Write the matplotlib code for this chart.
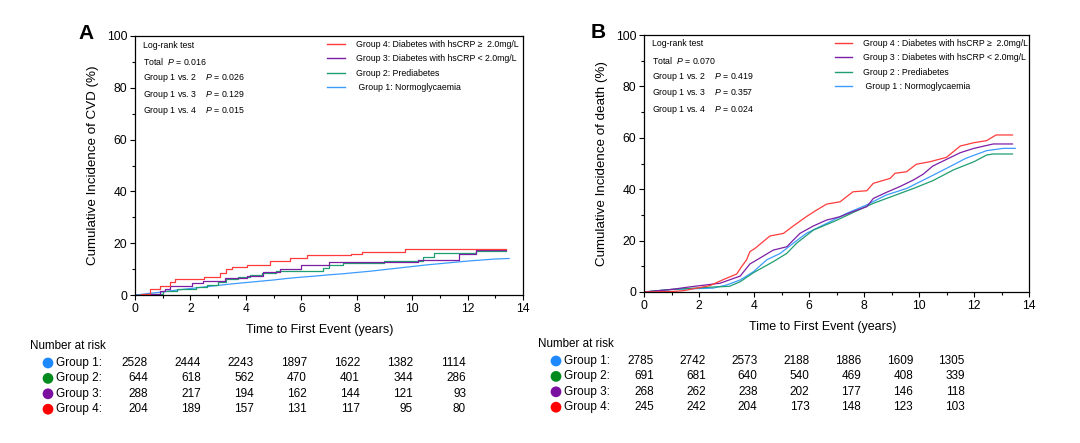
import matplotlib.pyplot as plt
import numpy as np

plt.rcParams['font.family'] = ['Liberation Sans', 'DejaVu Sans']
plt.rcParams['mathtext.fontset'] = 'custom'
plt.rcParams['mathtext.rm'] = 'Liberation Sans'
plt.rcParams['mathtext.it'] = 'Liberation Sans:italic'

# ---- panel A : CVD ----
a_t_g4 = [0, 0.2, 0.54, 0.9, 1.26, 1.44, 2.5, 3.07, 3.3, 3.5, 4.03, 4.87, 5.6, 6.2, 7.8, 8.2, 9.75, 13.4]
a_v_g4 = [0, 0.5, 2.2, 3.5, 5.1, 6.3, 7.0, 8.4, 9.9, 11.0, 11.6, 13.0, 14.4, 15.4, 16.0, 16.7, 17.6, 17.6]
a_t_g3 = [0, 0.4, 0.9, 1.1, 1.26, 2.04, 2.46, 3.25, 4.03, 4.63, 5.24, 6.0, 7.0, 8.5, 10.2, 11.7, 12.3, 13.4]
a_v_g3 = [0, 0.5, 1.5, 2.5, 3.4, 4.5, 5.3, 6.7, 7.4, 8.8, 10.2, 11.7, 12.8, 12.8, 13.5, 16.0, 17.3, 17.3]
a_t_g2 = [0, 0.4, 1.0, 1.5, 2.2, 2.6, 3.0, 3.3, 3.7, 4.15, 4.6, 5.1, 6.5, 6.8, 7.0, 7.5, 8.97, 10.4, 10.8, 12.2, 12.3, 13.4]
a_v_g2 = [0, 0.4, 1.5, 2.2, 3.2, 4.0, 5.0, 6.0, 6.8, 7.7, 8.4, 9.3, 9.3, 10.3, 11.5, 12.5, 13.3, 14.5, 16.1, 16.3, 17.1, 17.1]
a_t_g1 = [0, 0.3, 0.5, 1.0, 1.5, 2.0, 2.5, 3.0, 3.5, 4.0, 4.5, 5.0, 5.5, 6.0, 6.5, 7.0, 7.5,
          8.0, 8.5, 9.0, 9.5, 10.0, 10.5, 11.0, 11.5, 12.0, 12.5, 13.0, 13.5]
a_v_g1 = [0, 0.3, 0.6, 1.2, 1.9, 2.5, 3.1, 3.7, 4.3, 4.8, 5.3, 5.8, 6.4, 6.9, 7.3, 7.8, 8.2,
          8.7, 9.2, 9.8, 10.4, 11.0, 11.6, 12.1, 12.6, 13.1, 13.5, 13.9, 14.1]

# ---- panel B : death ----
b_t_g4 = [0, 1.0, 1.43, 2.4, 2.9, 3.37, 3.55, 3.73, 3.85, 4.04, 4.58, 5.07, 5.43, 5.9, 6.28, 6.64, 7.13,
          7.6, 8.1, 8.34, 8.95, 9.13, 9.55, 9.9, 10.4, 11.0, 11.5, 12.0, 12.46, 12.8, 13.4]
b_v_g4 = [0, 0.2, 0.5, 2.5, 4.9, 7.0, 9.9, 12.5, 15.7, 17.0, 21.8, 22.8, 25.7, 29.3, 31.9, 34.2, 35.1,
          39.0, 39.4, 42.3, 44.2, 46.2, 46.8, 49.7, 50.7, 52.4, 56.8, 58.1, 58.9, 61.1, 61.1]
b_t_g3 = [0, 1.0, 1.67, 2.76, 3.5, 3.85, 4.2, 4.7, 5.19, 5.67, 6.16, 6.64, 7.13, 7.6, 8.1, 8.34,
          8.8, 9.3, 9.8, 10.16, 10.5, 11.0, 11.5, 12.0, 12.7, 13.4]
b_v_g3 = [0, 1.0, 2.0, 3.4, 6.2, 10.9, 13.1, 16.3, 17.6, 22.8, 25.7, 28.0, 29.3, 31.3, 33.2, 36.4,
          38.7, 41.0, 43.6, 45.9, 49.0, 51.6, 54.2, 55.9, 57.6, 57.6]
b_t_g2 = [0, 0.5, 1.0, 2.64, 3.1, 3.5, 3.73, 3.98, 4.7, 5.19, 5.55, 6.16, 6.9, 7.6, 8.34, 9.07, 9.8,
          10.5, 11.25, 12.0, 12.46, 12.7, 13.4]
b_v_g2 = [0, 0.5, 1.0, 2.0, 2.2, 4.0, 5.7, 7.5, 11.8, 15.0, 19.0, 24.1, 27.4, 30.9, 34.5, 37.4, 40.3,
          43.3, 47.5, 50.7, 53.3, 53.7, 53.7]
b_t_g1 = [0, 1.0, 2.5, 3.0, 3.5, 3.98, 4.46, 4.95, 5.43, 5.9, 6.64, 7.37, 8.1, 8.8, 9.55, 10.28,
          11.0, 11.7, 12.46, 13.07, 13.5]
b_v_g1 = [0, 1.0, 1.5, 2.7, 4.7, 7.9, 12.5, 15.0, 19.0, 22.8, 26.7, 30.6, 33.9, 37.7, 40.3, 44.2,
          48.1, 52.0, 55.0, 55.9, 55.9]

a_labels = ['Group 4: Diabetes with hsCRP \u2265  2.0mg/L', 'Group 3: Diabetes with hsCRP < 2.0mg/L',
            'Group 2: Prediabetes', ' Group 1: Normoglycaemia']
b_labels = ['Group 4 : Diabetes with hsCRP \u2265  2.0mg/L', 'Group 3 : Diabetes with hsCRP < 2.0mg/L',
            'Group 2 : Prediabetes', ' Group 1 : Normoglycaemia']
a_pvals = ['0.016', '0.026', '0.129', '0.015']
b_pvals = ['0.070', '0.419', '0.357', '0.024']

groups = ['Group 1:', 'Group 2:', 'Group 3:', 'Group 4:']
a_risk = [[2528, 2444, 2243, 1897, 1622, 1382, 1114],
          [644, 618, 562, 470, 401, 344, 286],
          [288, 217, 194, 162, 144, 121, 93],
          [204, 189, 157, 131, 117, 95, 80]]
b_risk = [[2785, 2742, 2573, 2188, 1886, 1609, 1305],
          [691, 681, 640, 540, 469, 408, 339],
          [268, 262, 238, 202, 177, 146, 118],
          [245, 242, 204, 173, 148, 123, 103]]

line_cols = ['#3d9bff', '#1f9e70', '#7d1fa5', '#ff3b3b']
dot_cols = ['#1e88ff', '#008a1e', '#7a0fa0', '#ff0000']

W, H = 1080, 443
fig = plt.figure(figsize=(W / 100, H / 100), dpi=100)


def panel(rect, curves, styles, labels, pvals, ylabel, letter, letter_x, label_x):
    ax = fig.add_axes(rect)
    # group 1 first so group 4 ends on top
    for (t, v), c, ds in zip(curves, line_cols, styles):
        ax.plot(t, v, drawstyle=ds, color=c, lw=0.9)
    handles = [plt.Line2D([], [], color=c, lw=1.0) for c in line_cols[::-1]]
    ax.legend(handles, labels, loc='upper left', bbox_to_anchor=(0.495, 0.985),
              frameon=False, fontsize=6.3, handlelength=2.0, handletextpad=1.3,
              labelspacing=0.62, borderpad=0, borderaxespad=0)
    ax.set_xlim(0, 14)
    ax.set_ylim(0, 100)
    ax.set_xticks(np.arange(0, 15, 2))
    ax.set_xticks(np.arange(1, 14, 2), minor=True)
    ax.set_yticks(np.arange(0, 101, 20))
    ax.set_yticks(np.arange(10, 100, 20), minor=True)
    ax.tick_params(which='major', length=3.5, width=0.8, labelsize=8.7, pad=2)
    ax.tick_params(which='minor', length=2.5, width=0.8)
    for s in ax.spines.values():
        s.set_linewidth(0.9)
    ax.set_ylabel(ylabel, fontsize=9.6, labelpad=6)
    ax.set_xlabel('Time to First Event (years)', fontsize=9.0)
    ax.xaxis.set_label_coords(label_x, -0.113)
    rows = ['Log-rank test', 'Total  $P$ = ' + pvals[0]]
    rows += ['Group 1 vs. %d    $P$ = %s' % (i + 2, p) for i, p in enumerate(pvals[1:])]
    for i, r in enumerate(rows):
        ax.text(0.02, 0.965 - i * 0.064, r, transform=ax.transAxes, fontsize=6.3, va='center')
    ax.text(letter_x, 1.01, letter, transform=ax.transAxes, fontsize=15, fontweight='bold',
            va='center', ha='center')
    return ax


a_curves = [(a_t_g1, a_v_g1), (a_t_g2, a_v_g2), (a_t_g3, a_v_g3), (a_t_g4, a_v_g4)]
b_curves = [(b_t_g1, b_v_g1), (b_t_g2, b_v_g2), (b_t_g3, b_v_g3), (b_t_g4, b_v_g4)]
panel([135 / W, 1 - 295 / H, 388 / W, 259 / H], a_curves,
      ['default', 'steps-post', 'steps-post', 'steps-post'], a_labels, a_pvals,
      'Cumulative Incidence of CVD (%)', 'A', -0.126, 0.475)
panel([644 / W, 1 - 292 / H, 385 / W, 257 / H], b_curves,
      ['default'] * 4, b_labels, b_pvals,
      'Cumulative Incidence of death (%)', 'B', -0.12, 0.465)

# number at risk tables, placed in pixel space
tab = fig.add_axes([0, 0, 1, 1])
tab.set_xlim(0, W)
tab.set_ylim(H, 0)
tab.axis('off')


def risk_table(risk, x_head, y_head, x_dot, x_num0, dx, y0, dy):
    tab.text(x_head, y_head, 'Number at risk', fontsize=8.4, va='center')
    for i, (g, row) in enumerate(zip(groups, risk)):
        y = y0 + i * dy
        tab.scatter([x_dot], [y], s=60, color=dot_cols[i], edgecolors='none')
        tab.text(x_dot + 8, y, g, fontsize=8.5, va='center')
        for j, n in enumerate(row):
            tab.text(x_num0 + j * dx, y, str(n), fontsize=8.5, va='center', ha='right')


risk_table(a_risk, 30, 346, 48, 148, 53, 363, 15.4)
risk_table(b_risk, 538, 344, 556, 654, 51.8, 361, 15.4)

fig.savefig('out.png', dpi=100)
